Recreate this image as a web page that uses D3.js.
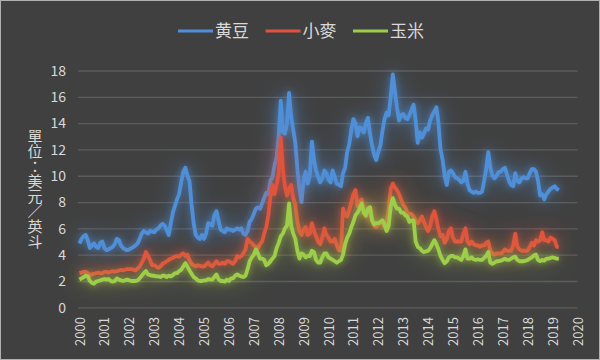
<!DOCTYPE html>
<html><head><meta charset="utf-8">
<script src="https://cdn.jsdelivr.net/npm/d3@7/dist/d3.min.js"></script>
<style>
html,body{margin:0;padding:0;background:#404040;}
svg{display:block;}
text{font-family:"Noto Sans CJK TC","Noto Sans",sans-serif;fill:#d9d9d9;}
</style></head>
<body><svg id="chart" width="600" height="360"></svg>
<script>
// ---- data (monthly, Jan 2000 .. Apr 2019), USD per bushel ----
const startYear = 2000;
const seriesNames = ["黄豆", "小麥", "玉米"];
const yTicks = [0, 2, 4, 6, 8, 10, 12, 14, 16, 18];
const xTickYears = [2000,2001,2002,2003,2004,2005,2006,2007,2008,2009,2010,2011,2012,2013,2014,2015,2016,2017,2018,2019,2020];
const yTitle = "單位：美元／英斗";

const soybean = [
 4.85,5.2,5.4,5.5,5.1,4.5,4.7,4.85,4.6,4.5,4.9,5.0,          // 2000
 4.5,4.35,4.4,4.5,4.6,4.8,5.2,5.1,4.7,4.5,4.4,4.35,         // 2001
 4.4,4.5,4.6,4.7,4.85,5.2,5.6,5.8,5.7,5.6,5.8,5.75,         // 2002
 5.7,5.9,6.0,6.2,6.35,6.2,5.9,5.5,6.4,7.2,7.7,8.2,          // 2003
 8.6,9.5,10.3,10.6,10.0,9.6,7.8,6.4,5.5,5.3,5.2,5.5,        // 2004
 5.2,5.6,6.4,6.3,6.2,7.0,7.3,6.6,5.9,5.8,5.7,6.0,           // 2005
 5.9,5.9,5.8,5.9,6.0,5.9,6.0,5.6,5.5,5.8,6.5,6.7,           // 2006
 7.1,7.5,7.6,7.5,7.9,8.3,8.7,8.6,9.6,9.9,10.8,11.4,         // 2007
 13.0,15.7,13.3,13.2,14.0,16.3,14.5,13.5,12.5,10.5,9.0,8.0, // 2008
 9.7,10.3,9.4,10.0,12.6,11.2,10.4,9.9,9.5,9.8,10.4,10.2,    // 2009
 9.7,9.5,10.4,9.9,9.4,9.3,9.2,10.2,10.6,11.8,12.4,13.5,     // 2010
 14.3,14.0,13.0,13.7,13.6,13.3,14.0,14.4,13.2,12.3,11.6,11.2, // 2011
 11.8,12.3,13.4,14.3,14.8,14.6,16.0,17.7,16.4,15.2,14.2,14.6, // 2012
 14.7,14.4,14.3,14.6,15.0,15.4,14.2,12.5,13.3,12.9,13.2,13.6, // 2013
 13.5,14.2,14.6,14.9,15.2,14.0,12.0,11.2,10.0,9.3,10.3,10.4,  // 2014
 10.2,9.9,9.8,9.7,9.5,9.6,10.3,9.4,8.9,8.8,8.7,8.8,         // 2015
 8.7,8.7,8.8,9.6,10.5,11.8,10.6,10.0,9.8,10.0,10.3,10.3,    // 2016
 10.5,10.6,10.1,9.6,9.3,9.2,10.2,9.6,9.5,9.8,9.9,9.8,       // 2017
 9.8,10.2,10.5,10.5,10.3,9.6,8.5,8.6,8.2,8.6,8.8,9.0,       // 2018
 9.1,9.2,9.0,8.9                                            // 2019
];
const wheat = [
 2.6,2.65,2.7,2.7,2.6,2.45,2.5,2.55,2.6,2.65,2.6,2.6,       // 2000
 2.7,2.7,2.65,2.7,2.75,2.7,2.75,2.8,2.85,2.8,2.85,2.9,      // 2001
 2.9,2.9,2.85,2.8,2.95,3.1,3.4,3.7,4.2,3.9,3.6,3.2,         // 2002
 3.2,3.1,3.0,3.1,3.3,3.4,3.5,3.6,3.7,3.75,3.85,3.9,         // 2003
 3.85,4.0,4.1,3.9,4.0,3.6,3.3,3.2,3.1,3.2,3.15,3.1,         // 2004
 3.1,3.25,3.4,3.2,3.1,3.3,3.5,3.3,3.3,3.4,3.3,3.5,          // 2005
 3.5,3.4,3.3,3.5,3.9,3.8,3.9,4.1,4.4,5.2,5.0,4.9,           // 2006
 4.7,4.6,4.5,4.8,5.0,5.6,6.1,7.0,8.4,9.3,8.6,9.3,           // 2007
 10.2,12.9,10.5,9.2,8.5,9.0,9.3,8.3,7.8,6.5,5.8,5.5,        // 2008
 5.9,6.1,5.5,5.6,6.4,5.8,5.4,5.0,4.8,5.3,6.0,5.5,           // 2009
 5.3,5.0,5.0,5.2,4.7,4.35,4.3,7.5,7.0,6.9,7.4,8.0,          // 2010
 8.6,8.9,7.7,8.0,8.2,7.2,6.9,7.3,7.6,6.6,6.2,6.1,           // 2011
 6.3,6.4,6.5,6.1,6.5,7.4,9.0,9.4,9.1,8.9,8.6,8.2,           // 2012
 7.8,7.6,7.2,7.1,7.1,6.9,6.6,6.4,6.6,6.9,6.5,6.1,           // 2013
 5.8,6.2,6.9,7.3,6.7,5.9,5.4,5.5,4.9,5.2,5.8,6.0,           // 2014
 5.3,5.0,5.0,5.0,5.0,5.6,6.0,5.0,4.8,5.0,4.8,4.7,           // 2015
 4.7,4.6,4.7,4.7,4.9,5.0,4.3,4.1,4.0,4.1,4.1,4.1,           // 2016
 4.2,4.4,4.3,4.3,4.3,4.7,5.6,4.6,4.4,4.3,4.3,4.3,           // 2017
 4.3,4.6,4.9,4.7,5.1,5.0,5.1,5.7,5.1,5.1,5.0,5.3,           // 2018
 5.2,5.1,4.6,4.6                                            // 2019
];
const corn = [
 2.1,2.2,2.3,2.4,2.35,2.0,1.85,1.8,1.95,2.0,2.05,2.1,       // 2000
 2.15,2.1,2.15,2.0,1.95,2.0,2.2,2.1,2.05,2.0,2.05,2.1,      // 2001
 2.05,2.0,2.0,2.0,2.05,2.2,2.4,2.6,2.75,2.5,2.45,2.4,       // 2002
 2.4,2.35,2.35,2.3,2.4,2.4,2.3,2.4,2.35,2.45,2.6,2.6,       // 2003
 2.75,2.85,3.1,3.35,3.1,2.8,2.55,2.3,2.2,2.05,2.0,2.0,      // 2004
 2.05,2.05,2.15,2.1,2.1,2.3,2.5,2.15,2.0,2.0,1.95,2.1,      // 2005
 2.0,2.2,2.2,2.4,2.5,2.4,2.35,2.3,2.4,2.9,3.5,3.8,          // 2006
 4.0,4.4,4.1,3.7,3.7,3.6,3.2,3.3,3.5,3.7,3.9,4.5,           // 2007
 4.9,5.4,5.6,6.0,6.2,7.9,6.2,5.6,5.2,4.3,3.7,4.1,           // 2008
 4.0,3.8,3.9,3.9,4.3,4.2,3.6,3.4,3.4,3.8,4.1,4.1,           // 2009
 3.8,3.7,3.6,3.5,3.4,3.5,3.6,4.0,4.8,5.3,5.6,6.1,           // 2010
 6.5,7.0,7.2,7.5,7.9,7.2,7.0,7.5,7.6,6.6,6.3,6.4,           // 2011
 6.4,6.5,6.6,6.3,5.8,6.2,7.7,8.3,7.8,7.5,7.5,7.2,           // 2012
 7.2,7.0,6.9,6.5,6.6,6.6,5.0,4.6,4.5,4.3,4.2,4.25,          // 2013
 4.3,4.5,4.8,5.1,4.8,4.4,3.9,3.6,3.35,3.5,3.8,3.9,          // 2014
 3.9,3.8,3.8,3.7,3.6,3.9,4.4,3.7,3.7,3.8,3.65,3.6,          // 2015
 3.65,3.6,3.6,3.75,3.9,4.2,3.4,3.3,3.4,3.5,3.5,3.55,        // 2016
 3.6,3.7,3.6,3.6,3.7,3.8,3.85,3.6,3.5,3.5,3.5,3.55,         // 2017
 3.6,3.7,3.8,3.95,4.0,3.6,3.5,3.6,3.55,3.7,3.7,3.75,        // 2018
 3.8,3.75,3.7,3.7                                           // 2019
];
const seriesValues = [soybean, wheat, corn];
const colors = ["#4f8fd8", "#e0523e", "#9dcd48"];

// ---- drawing ----
const W = 600, H = 360;
const svg = d3.select("#chart");
svg.append("rect").attr("x",0.5).attr("y",0.5).attr("width",W-1).attr("height",H-1)
  .attr("fill","#404040").attr("stroke","#b0b0b0").attr("stroke-width",1);

const x = d3.scaleLinear().domain([2000, 2020]).range([79.5, 577.5]);
const y = d3.scaleLinear().domain([0, 18]).range([307.3, 70.5]);

// glow filters
const defs = svg.append("defs");
colors.forEach((c, i) => {
  const f = defs.append("filter").attr("id", "glow" + i)
    .attr("filterUnits", "userSpaceOnUse").attr("x", 0).attr("y", 0).attr("width", W).attr("height", H);
  f.append("feGaussianBlur").attr("in", "SourceGraphic").attr("stdDeviation", 11).attr("result", "b1");
  f.append("feComponentTransfer").attr("in", "b1").attr("result", "b1a")
    .append("feFuncA").attr("type", "linear").attr("slope", 0.75);
  f.append("feGaussianBlur").attr("in", "SourceGraphic").attr("stdDeviation", 3.5).attr("result", "b2");
  f.append("feComponentTransfer").attr("in", "b2").attr("result", "b2a")
    .append("feFuncA").attr("type", "linear").attr("slope", 0.7);
  const m = f.append("feMerge");
  m.append("feMergeNode").attr("in", "b1a");
  m.append("feMergeNode").attr("in", "b2a");
  m.append("feMergeNode").attr("in", "SourceGraphic");
});

// gridlines + y labels
const yAxis = d3.axisLeft(y).tickValues(yTicks).tickSize(-(577.5 - 78)).tickPadding(12);
const gy = svg.append("g").attr("transform", "translate(78,0)").call(yAxis);
gy.select(".domain").remove();
gy.selectAll(".tick line").attr("stroke", "#5c5c5c").attr("stroke-width", 1.3);
gy.selectAll(".tick text").attr("fill", "#d9d9d9").style("font-size", "14px")
  .attr("x", -12).attr("dy", "0.34em");

// x labels (rotated)
const xAxis = d3.axisBottom(x).tickValues(xTickYears).tickFormat(d3.format("d")).tickSize(0);
const gx = svg.append("g").attr("transform", "translate(0,317)").call(xAxis);
gx.select(".domain").remove();
gx.selectAll(".tick text")
  .attr("transform", "rotate(-90)")
  .attr("text-anchor", "end")
  .attr("x", 0).attr("y", 0).attr("dy", "0.35em")
  .style("font-size", "13px").attr("fill", "#d9d9d9");

// lines
const line = d3.line()
  .x((d, i) => x(startYear + i / 12))
  .y(d => y(d))
  .curve(d3.curveLinear);

seriesValues.forEach((vals, i) => {
  svg.append("path")
    .datum(vals)
    .attr("fill", "none")
    .attr("stroke", colors[i])
    .attr("stroke-width", 3.8)
    .attr("stroke-linejoin", "round")
    .attr("filter", "url(#glow" + i + ")")
    .attr("d", line);
});

// legend
const legend = svg.append("g").attr("transform", "translate(178,31)");
seriesNames.forEach((name, i) => {
  const g = legend.append("g").attr("transform", `translate(${i * 87.5},0)`);
  g.append("line").attr("x1", 0).attr("x2", 35).attr("y1", 0).attr("y2", 0)
    .attr("stroke", colors[i]).attr("stroke-width", 3);
  g.append("text").attr("x", 37).attr("y", 0).attr("dy", "0.36em")
    .style("font-size", "17px").text(name);
});

// y title: vertical, upright characters, single text element
svg.append("text")
  .attr("x", 35).attr("y", 189)
  .attr("text-anchor", "middle")
  .style("font-size", "15px")
  .style("writing-mode", "vertical-rl")
  .style("text-orientation", "upright")
  .text(yTitle);
</script></body></html>
